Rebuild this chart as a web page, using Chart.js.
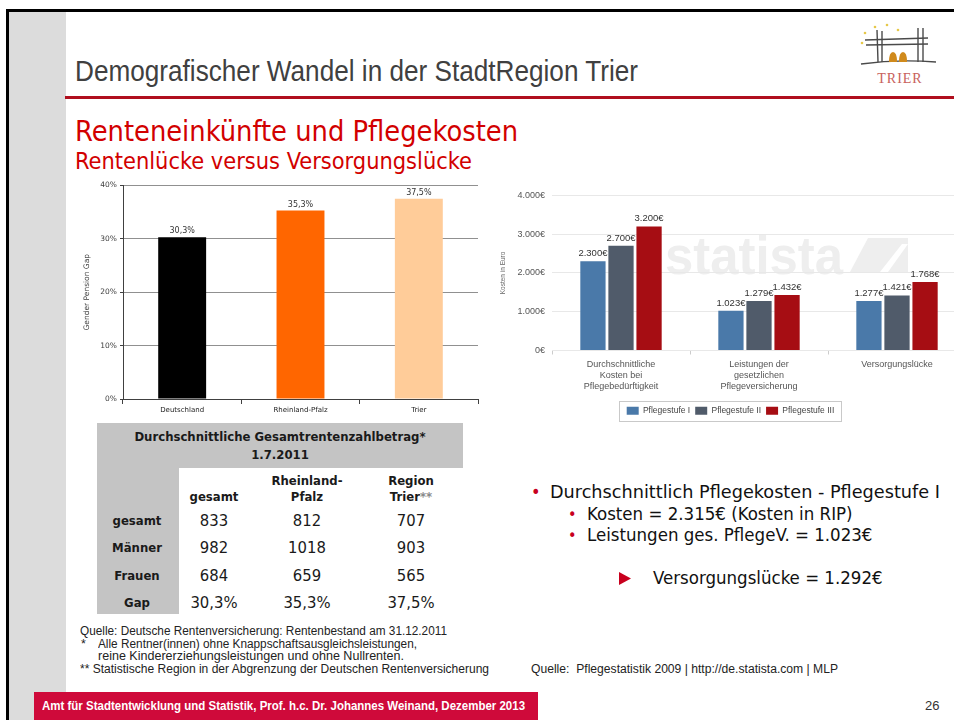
<!DOCTYPE html>
<html><head><meta charset="utf-8">
<script src="https://cdn.jsdelivr.net/npm/chart.js@4.4.1/dist/chart.umd.min.js"></script>
<style>
html,body{margin:0;padding:0;}
body{width:954px;height:720px;overflow:hidden;position:relative;background:#fff;font-family:"DejaVu Sans Condensed","DejaVu Sans",sans-serif;font-stretch:semi-condensed;}
.a{position:absolute;white-space:nowrap;}
.narrow{font-family:"Liberation Sans Narrow","Arial Narrow","Liberation Sans",sans-serif;font-stretch:normal;}
.tah{font-family:"DejaVu Sans Condensed","DejaVu Sans",sans-serif;font-stretch:semi-condensed;}
.c{text-align:center;transform:translateX(-50%);}
</style></head>
<body>
<!-- frame -->
<div class="a" style="left:8px;top:11px;width:58px;height:709px;background:#dcdcdc"></div>
<div class="a" style="left:6px;top:9px;width:948px;height:3px;background:#000"></div>
<div class="a" style="left:6px;top:9px;width:3px;height:711px;background:#000"></div>
<div class="a" style="left:65px;top:96px;width:889px;height:3px;background:#b00f1e"></div>

<div class="a narrow" data-w="563" style="left:75px;top:56px;font-size:29px;line-height:30px;color:#404040">Demografischer Wandel in der StadtRegion Trier</div>

<svg class="a" style="left:852px;top:18px" width="84" height="72" viewBox="0 0 84 72">
  <g fill="#e6c84a"><circle cx="13" cy="15" r="1.3"/><circle cx="23" cy="9" r="1.3"/><circle cx="35" cy="7" r="1.3"/><circle cx="46" cy="12" r="1.3"/><circle cx="10" cy="25" r="1.3"/></g>
  <g stroke="#4a4a4a" stroke-width="1.4" fill="none">
    <path d="M13 22 L76 20"/><path d="M14 27 L76 26"/>
    <path d="M25 12 L26 44"/><path d="M30 13 L30 44"/>
    <path d="M66 10 L66 44"/><path d="M71 10 L71 44"/>
    <path d="M9 46 Q45 41 84 44"/>
  </g>
  <g fill="#d08a1c"><path d="M37 44 Q37 34 41 34 Q45 34 45 44 Z"/><path d="M47 44 Q47 34 51 34 Q55 34 55 44 Z"/></g>
  <text x="48" y="65" text-anchor="middle" font-family="Liberation Serif,DejaVu Serif,serif" font-size="14" fill="#c8615c" letter-spacing="1">TRIER</text>
</svg>

<div class="a tah" data-w="443" style="left:75px;top:118px;font-size:28px;line-height:28px;color:#d20000">Renteneinkünfte und Pflegekosten</div>
<div class="a tah" data-w="397" style="left:75px;top:150px;font-size:23px;line-height:23px;color:#d20000">Rentenlücke versus Versorgungslücke</div>

<!-- left chart -->
<div class="a" style="left:78px;top:178px;width:410px;height:245px"><canvas id="gap" width="410" height="245"></canvas></div>

<!-- right chart watermark -->
<div class="a" data-w="178" style="left:665px;top:228px;font-family:'Liberation Sans',sans-serif;font-weight:bold;font-size:54px;line-height:54px;color:#eeeeee">statista</div>
<svg class="a" style="left:850px;top:238px" width="60" height="36"><polygon points="18,0 58,0 58,34 0,34" fill="#eeeeee"/><polygon points="30,34 52,6 58,6 38,34" fill="#ffffff"/></svg>
<div class="a" style="left:495px;top:183px;width:471px;height:245px"><canvas id="care" width="471" height="245"></canvas></div>

<!-- table -->
<div class="a" style="left:97px;top:423px;width:366px;height:45px;background:#c4c4c4"></div>
<div class="a" style="left:97px;top:468px;width:82px;height:146px;background:#c4c4c4"></div>
<div id="tbl"></div>

<!-- bullets -->
<div class="a tah" style="left:531px;top:482px;font-size:18px;line-height:20px;color:#c8001e">•</div>
<div class="a tah" data-w="390" style="left:550px;top:482px;font-size:18.5px;line-height:20px;color:#111">Durchschnittlich Pflegekosten - Pflegestufe I</div>
<div class="a tah" style="left:568px;top:505px;font-size:16px;line-height:20px;color:#c8001e">•</div>
<div class="a tah" style="left:587px;top:504px;font-size:18.5px;line-height:20px;color:#111">Kosten = 2.315€ (Kosten in RIP)</div>
<div class="a tah" style="left:568px;top:526px;font-size:16px;line-height:20px;color:#c8001e">•</div>
<div class="a tah" style="left:587px;top:525px;font-size:18.5px;line-height:20px;color:#111">Leistungen ges. PflegeV. = 1.023€</div>
<svg class="a" style="left:619px;top:572px" width="12" height="13"><polygon points="0,0 12,6.5 0,13" fill="#c8001e"/></svg>
<div class="a tah" style="left:653px;top:568px;font-size:18.5px;line-height:20px;color:#111">Versorgungslücke = 1.292€</div>

<!-- footnotes -->
<div class="a narrow" data-w="367" style="left:80px;top:625px;font-size:12.5px;line-height:13px;color:#222">Quelle: Deutsche Rentenversicherung: Rentenbestand am 31.12.2011</div>
<div class="a narrow" style="left:81px;top:638px;font-size:12.5px;line-height:13px;color:#222">*</div>
<div class="a narrow" data-w="319" style="left:98px;top:638px;font-size:12.5px;line-height:13px;color:#222">Alle Rentner(innen) ohne Knappschaftsausgleichsleistungen,</div>
<div class="a narrow" data-w="306" style="left:98px;top:650px;font-size:12.5px;line-height:13px;color:#222">reine Kindererziehungsleistungen und ohne Nullrenten.</div>
<div class="a narrow" data-w="409" style="left:80px;top:663px;font-size:12.5px;line-height:13px;color:#222">** Statistische Region in der Abgrenzung der Deutschen Rentenversicherung</div>
<div class="a narrow" data-w="307" style="left:531px;top:663px;font-size:12.5px;line-height:13px;color:#222">Quelle:&nbsp; Pflegestatistik 2009 | http://de.statista.com | MLP</div>

<!-- footer -->
<div class="a" style="left:34px;top:692px;width:504px;height:28px;background:#cf0a3a"></div>
<div class="a narrow" data-w="483" style="left:42px;top:699px;font-size:13px;line-height:14px;color:#fff;font-weight:bold">Amt für Stadtentwicklung und Statistik, Prof. h.c. Dr. Johannes Weinand, Dezember 2013</div>
<div class="a narrow" style="left:925px;top:699px;font-size:13px;line-height:14px;color:#333">26</div>

<script>
// ---- data: gender pension gap ----
const gapCategories = ['Deutschland', 'Rheinland-Pfalz', 'Trier'];
const gapValues = [30.3, 35.3, 37.5];
const gapColors = ['#000000', '#ff6600', '#ffcc99'];
const gapAxisMax = 40;
const gapAxisStep = 10;

// ---- data: Pflegekosten (statista) ----
const careCategories = [
  ['Durchschnittliche', 'Kosten bei', 'Pflegebedürftigkeit'],
  ['Leistungen der', 'gesetzlichen', 'Pflegeversicherung'],
  ['Versorgungslücke']
];
const careSeriesNames = ['Pflegestufe I', 'Pflegestufe II', 'Pflegestufe III'];
const careStufe1 = [2300, 1023, 1277];
const careStufe2 = [2700, 1279, 1421];
const careStufe3 = [3200, 1432, 1768];
const careColors = ['#4a79a9', '#505b6a', '#a60d13'];
const careAxisMax = 4000;
const careAxisStep = 1000;

// ---- data: table ----
const tableTitle = ['Durchschnittliche Gesamtrentenzahlbetrag*', '1.7.2011'];
const tableColumns = [['gesamt'], ['Rheinland-', 'Pfalz'], ['Region', 'Trier**']];
const tableRows = ['gesamt', 'Männer', 'Frauen', 'Gap'];
const tableValues = [
  ['833', '812', '707'],
  ['982', '1018', '903'],
  ['684', '659', '565'],
  ['30,3%', '35,3%', '37,5%']
];

// ---- build table ----
(function(){
  const host = document.getElementById('tbl');
  const colX = [214, 307, 411];
  const rowY = [521, 548, 576, 603];
  const add = (html, x, cy, size, bold, lh) => {
    const d = document.createElement('div');
    d.className = 'a tah c';
    d.style.left = x + 'px';
    d.style.top = (cy - lh / 2) + 'px';
    d.style.fontSize = size + 'px';
    d.style.lineHeight = lh + 'px';
    d.style.fontWeight = bold ? 'bold' : 'normal';
    d.style.color = '#1a1a1a';
    d.innerHTML = html;
    host.appendChild(d);
  };
  tableTitle.forEach((t, i) => add(t, 280, 437 + i * 18, 13, true, 16));
  tableColumns.forEach((lines, c) => {
    lines.forEach((t, i) => {
      const cy = 497 - (lines.length - 1 - i) * 16;
      add(t.replace('**', '<span style="color:#8a8a8a">**</span>'), colX[c], cy, 13, true, 16);
    });
  });
  tableRows.forEach((r, i) => add(r, 137, rowY[i], 13, true, 16));
  tableValues.forEach((row, i) => row.forEach((v, c) => add(v, colX[c], rowY[i], 16.5, false, 18)));
})();

function valueLabels(fmt, font, color, offset) {
  return {
    id: 'valueLabels',
    afterDatasetsDraw(chart) {
      const c = chart.ctx;
      c.save();
      c.font = font; c.fillStyle = color; c.textAlign = 'center'; c.textBaseline = 'alphabetic';
      chart.data.datasets.forEach((ds, i) => {
        chart.getDatasetMeta(i).data.forEach((el, j) => {
          c.fillText(fmt(ds.data[j]), el.x, el.y - offset);
        });
      });
      c.restore();
    }
  };
}
const legendBox = {
  id: 'legendBox',
  afterDraw(chart) {
    const L = chart.legend;
    if (!L || !L.legendHitBoxes || !L.legendHitBoxes.length) return;
    const hb = L.legendHitBoxes;
    const x0 = Math.min(...hb.map(h => h.left)), x1 = Math.max(...hb.map(h => h.left + h.width));
    const y0 = Math.min(...hb.map(h => h.top)), y1 = Math.max(...hb.map(h => h.top + h.height));
    const c = chart.ctx;
    c.save(); c.strokeStyle = '#c9c9c9'; c.lineWidth = 1;
    c.strokeRect(Math.round(x0 - 8) + 0.5, Math.round(y0 - 6) + 0.5, Math.round(x1 - x0 + 14), Math.round(y1 - y0 + 11));
    c.restore();
  }
};
const euro = v => String(v).replace(/\B(?=(\d{3})+(?!\d))/g, '.') + '€';
const pct = v => String(v).replace('.', ',') + '%';

function draw() {
  new Chart(document.getElementById('gap'), {
    type: 'bar',
    data: { labels: gapCategories, datasets: [{ data: gapValues, backgroundColor: gapColors, borderWidth: 0, categoryPercentage: 1, barPercentage: 0.405 }] },
    options: {
      responsive: false, animation: false, devicePixelRatio: 1,
      layout: { padding: { top: 7, right: 10, left: 0, bottom: 0 } },
      plugins: { legend: { display: false }, tooltip: { enabled: false } },
      scales: {
        x: {
          grid: { drawOnChartArea: false, drawTicks: true, tickLength: 5, color: '#404040', offset: true },
          border: { color: '#404040', width: 1 },
          ticks: { font: { family: 'DejaVu Sans', size: 7 }, color: '#222', padding: 2, maxRotation: 0 },
          afterFit(s) { s.height = 24; }
        },
        y: {
          min: 0, max: gapAxisMax,
          ticks: { stepSize: gapAxisStep, callback: v => v + '%', font: { family: 'DejaVu Sans', size: 7.5 }, color: '#404040', padding: 3 },
          grid: { color: '#909090', tickLength: 3, tickColor: '#404040' },
          border: { color: '#404040' },
          title: { display: true, text: 'Gender Pension Gap', font: { family: 'DejaVu Sans', size: 7.5 }, color: '#404040', padding: { top: 5, bottom: 0 } },
          afterFit(s) { s.width = 45; }
        }
      }
    },
    plugins: [valueLabels(pct, '8px "DejaVu Sans"', '#333', 4)]
  });

  const careData = [careStufe1, careStufe2, careStufe3];
  new Chart(document.getElementById('care'), {
    type: 'bar',
    data: {
      labels: careCategories,
      datasets: careData.map((d, i) => ({ label: careSeriesNames[i], data: d, backgroundColor: careColors[i], borderWidth: 0, categoryPercentage: 0.61, barPercentage: 0.9 }))
    },
    options: {
      responsive: false, animation: false, devicePixelRatio: 1,
      layout: { padding: { top: 12, right: 0, left: 0, bottom: 3 } },
      plugins: {
        tooltip: { enabled: false },
        legend: { display: true, position: 'bottom', labels: { boxWidth: 12, boxHeight: 8, font: { family: 'Liberation Sans', size: 8.5 }, color: '#444', padding: 5 } }
      },
      scales: {
        x: {
          grid: { drawOnChartArea: false, drawTicks: true, tickLength: 4, color: '#cccccc', offset: true },
          border: { display: false },
          ticks: { font: { family: 'Liberation Sans', size: 9, lineHeight: 1.25 }, color: '#555', padding: 4, maxRotation: 0, autoSkip: false },
          afterFit(s) { s.height = 51; }
        },
        y: {
          min: 0, max: careAxisMax,
          ticks: { stepSize: careAxisStep, callback: v => euro(v), font: { family: 'Liberation Sans', size: 9 }, color: '#555', padding: 7 },
          grid: { color: '#e8e8e8', drawTicks: false },
          border: { display: false },
          title: { display: true, text: 'Kosten in Euro', font: { family: 'Liberation Sans', size: 6.5 }, color: '#666', padding: { top: 4, bottom: 0 } },
          afterFit(s) { s.width = 57; }
        }
      }
    },
    plugins: [valueLabels(euro, '9.5px "Liberation Sans"', '#333', 5), legendBox]
  });
}

function fitTexts() {
  document.querySelectorAll('[data-w]').forEach(el => {
    const w = el.getBoundingClientRect().width;
    const t = +el.dataset.w;
    if (w > 0) { el.style.transformOrigin = '0 50%'; el.style.transform = 'scaleX(' + (t / w).toFixed(4) + ')'; }
  });
}
(document.fonts && document.fonts.ready ? document.fonts.ready : Promise.resolve()).then(() => { fitTexts(); draw(); });
</script>
</body></html>
